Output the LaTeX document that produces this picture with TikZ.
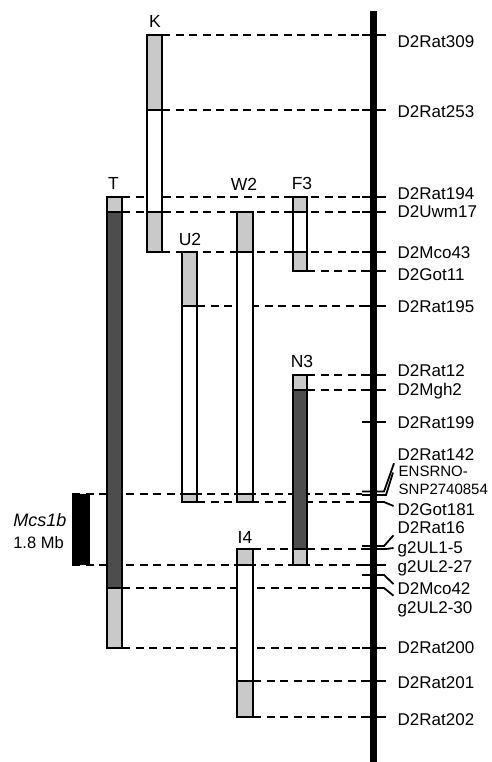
\documentclass[tikz,border=0pt]{standalone}
\usepackage{fontspec}
\setmainfont{Liberation Sans}
\usetikzlibrary{backgrounds}
\definecolor{lg}{RGB}{201,201,201}
\definecolor{dg}{RGB}{77,77,77}
\tikzset{
  segbox/.style={draw=black, line width=2.2pt, inner sep=0pt, outer sep=0pt, anchor=north west},
  dl/.style={line width=2.6pt, dash pattern=on 8pt off 5.5pt},
  tk/.style={line width=1.8pt},
  chrom/.style={line width=7.5pt},
  mk/.style={anchor=west, inner sep=0pt, font=\fontsize{17}{20}\selectfont, text height=12.2pt, text depth=0pt},
  mks/.style={anchor=west, inner sep=0pt, font=\fontsize{15}{18}\selectfont, text height=10.7pt, text depth=0pt},
  bl/.style={inner sep=0pt, font=\fontsize{17.5}{20}\selectfont, text height=12.5pt, text depth=0pt},
}
\newcommand\mysegbox[6]{\node[segbox, fill=#6, minimum width={(#3)-(#2)}, minimum height={(#5)-(#4)}] (#1) at (#2,#4) {};}
\begin{document}
\begin{tikzpicture}[x=1pt,y=-1pt]
\useasboundingbox (0,0) rectangle (491,762);
% boxes
\mysegbox{K1}{147}{162}{35}{110}{lg}
\mysegbox{K2}{147}{162}{110}{212}{white}
\mysegbox{K3}{147}{162}{212}{252}{lg}
\mysegbox{T1}{107}{122}{197}{212}{lg}
\mysegbox{T2}{107}{122}{212}{588}{dg}
\mysegbox{T3}{107}{122}{588}{648}{lg}
\mysegbox{U1}{182}{197}{252}{306}{lg}
\mysegbox{U2}{182}{197}{306}{494}{white}
\mysegbox{U3}{182}{197}{494}{502}{lg}
\mysegbox{W1}{237}{253}{212}{252}{lg}
\mysegbox{W2}{237}{253}{252}{494}{white}
\mysegbox{W3}{237}{253}{494}{502}{lg}
\mysegbox{F1}{293}{307}{197}{212}{lg}
\mysegbox{F2}{293}{307}{212}{252}{white}
\mysegbox{F3}{293}{307}{252}{271}{lg}
\mysegbox{N1}{293}{307}{375}{390}{lg}
\mysegbox{N2}{293}{307}{390}{549}{dg}
\mysegbox{N3}{293}{307}{549}{565}{lg}
\mysegbox{I1}{237}{253}{549}{565}{lg}
\mysegbox{I2}{237}{253}{565}{681}{white}
\mysegbox{I3}{237}{253}{681}{717}{lg}
\node[fill=black, inner sep=0pt, outer sep=0pt, minimum width=18pt, minimum height=71pt, anchor=north west] (mcs) at (72,494) {};
% box labels
\node[bl] (lK) at (155,21) {K};
\node[bl] (lT) at (113.5,183) {T};
\node[bl] (lW) at (244,184) {W2};
\node[bl] (lF) at (302,183) {F3};
\node[bl] (lU) at (190,239) {U2};
\node[bl] (lN) at (302,361) {N3};
\node[bl] (lI) at (245,537) {I4};
\node[inner sep=0pt, font=\fontsize{18}{20}\selectfont\itshape, text height=12.9pt, text depth=0pt] (mcsl) at (40,520) {Mcs1b};
\node[inner sep=0pt, font=\fontsize{16.5}{20}\selectfont, text height=11.8pt, text depth=0pt] (mcss) at (38.5,543) {1.8 Mb};
% chromosome
\coordinate (ctop) at (373.5,11);
\coordinate (cbot) at (373.5,762);
\draw[chrom] (ctop) -- (cbot);
\foreach \y in {35,110,197,212,252,271,306,375,390,422,494,502,549,565,588,648,681,717}
  \coordinate (t\y) at (362,\y);
\coordinate (t491) at (362,491.5);
\coordinate (t495) at (362,495);
\coordinate (t546) at (362,546);
\coordinate (t575) at (362,575);
\foreach \y in {35,110,197,212,252,271,306,375,390,422,565,648,681,717}
  \draw[tk] (t\y) -- ++(24,0);
% marker labels
\node[mk] (m309) at (397.5,41) {D2Rat309};
\node[mk] (m253) at (397.5,111) {D2Rat253};
\node[mk] (m194) at (397.5,193.5) {D2Rat194};
\node[mk] (m17) at (397.5,211) {D2Uwm17};
\node[mk] (m43) at (397.5,252) {D2Mco43};
\node[mk] (m11) at (397.5,274) {D2Got11};
\node[mk] (m195) at (397.5,306) {D2Rat195};
\node[mk] (m12) at (397.5,370) {D2Rat12};
\node[mk] (mgh2) at (397.5,389) {D2Mgh2};
\node[mk] (m199) at (397.5,422) {D2Rat199};
\node[mk] (m142) at (397.5,454) {D2Rat142};
\node[mks] (mens) at (398.5,471) {ENSRNO-};
\node[mks] (msnp) at (398.5,489) {SNP2740854};
\node[mk] (m181) at (397.5,509) {D2Got181};
\node[mk] (m16) at (397.5,527) {D2Rat16};
\node[mk] (mg15) at (397.5,547) {g2UL1-5};
\node[mk] (mg27) at (397.5,566) {g2UL2-27};
\node[mk] (mco42) at (397.5,588) {D2Mco42};
\node[mk] (mg30) at (397.5,607) {g2UL2-30};
\node[mk] (m200) at (397.5,647) {D2Rat200};
\node[mk] (m201) at (397.5,682) {D2Rat201};
\node[mk] (m202) at (397.5,719) {D2Rat202};
% bent ticks
\draw[tk] (t491) -- ++(22,0) -- ([xshift=-3.5pt,yshift=-3pt]m142.south west);
\draw[tk] (t495) -- ++(24,0) -- ([xshift=-5.5pt,yshift=4pt]mens.south west);
\draw[tk] (t502) -- ++(22,0) -- ([xshift=-4pt,yshift=3pt]m181.west);
\draw[tk] (t546) -- ++(22,0) -- ([xshift=-4pt,yshift=-2pt]m16.south west);
\draw[tk] (t549) -- ++(24,0) -- ([xshift=-4pt,yshift=-1pt]mg15.west);
\draw[tk] (t575) -- ++(22,0) -- ([xshift=-4pt,yshift=4pt]mco42.west);
\draw[tk] (t588) -- ++(22,0) -- ([xshift=-4pt,yshift=5pt]mg30.north west);
% dashed connectors
\begin{scope}[on background layer]
\draw[dl] (K1.north east) -- (t35);
\draw[dl] (K1.south east) -- (t110);
\draw[dl] (T1.north east) -- (t197);
\draw[dl] (T1.south east) -- (t212);
\draw[dl] (K3.south east) -- (t252);
\draw[dl] (F3.south east) -- (t271);
\draw[dl] (U1.south east) -- (t306);
\draw[dl] (N1.north east) -- (t375);
\draw[dl] (N1.south east) -- (t390);
\draw[dl] (mcs.north west) -- (t494);
\draw[dl] (U3.south east) -- (t502);
\draw[dl] (I1.north east) -- (t549);
\draw[dl] (mcs.south west) -- (t565);
\draw[dl] (T3.north east) -- (t588);
\draw[dl] (T3.south east) -- (t648);
\draw[dl] (I3.north east) -- (t681);
\draw[dl] (I3.south east) -- (t717);
\end{scope}
\end{tikzpicture}
\end{document}
